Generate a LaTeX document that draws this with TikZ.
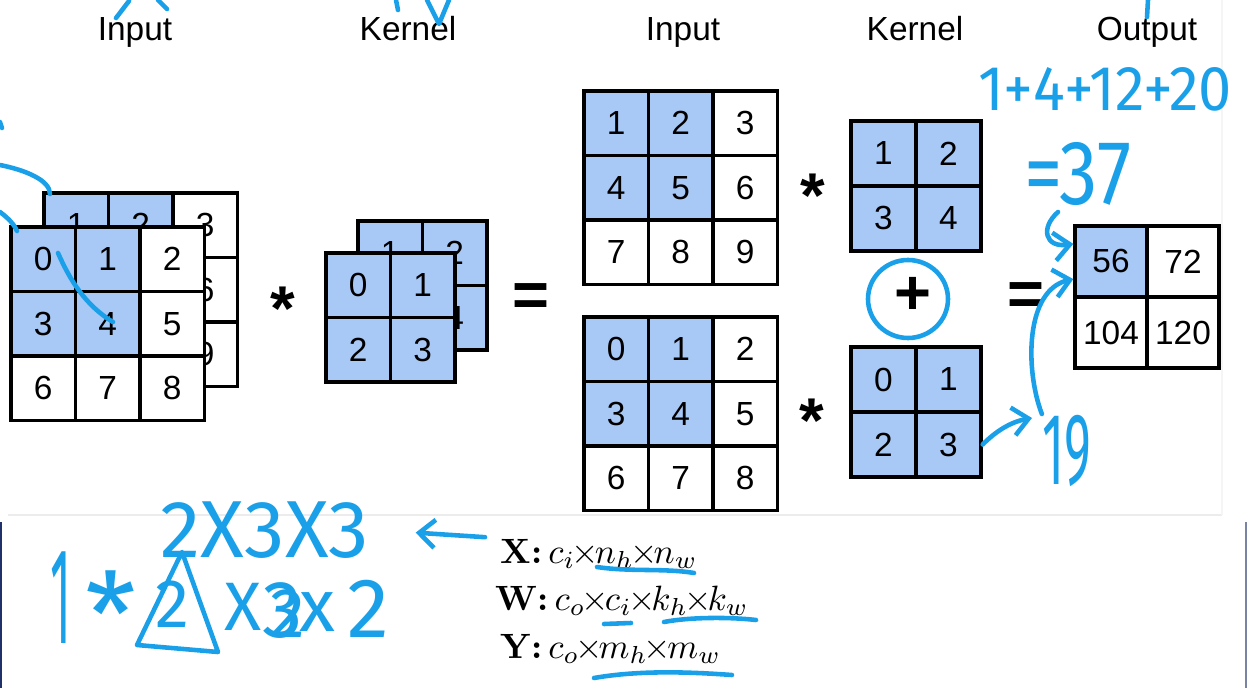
\documentclass[tikz,border=0pt]{standalone}
\usepackage{fontspec}
\usepackage{graphicx}
\usetikzlibrary{arrows.meta, positioning}
\newfontfamily\labelfont{Liberation Sans}
\IfFontExistsTF{FiraSans-Light.otf}{\newfontfamily\handfont{FiraSans-Light.otf}}{\newfontfamily\handfont{Fira Sans}}
\definecolor{cellblue}{RGB}{168,200,245}
\definecolor{ink}{RGB}{25,160,232}
\definecolor{navy}{RGB}{32,48,105}
\newcommand{\tm}{\mkern-2mu{\times}\mkern-2mu}

\tikzset{
  cell/.style={draw, line width=0.95pt, minimum size=0.645cm, inner sep=0pt, font=\labelfont\fontsize{9.5}{9.5}\selectfont},
  cellb/.style={cell, fill=cellblue},
  cellw/.style={cell, fill=white},
  kcell/.style={cellb, minimum size=0.65cm},
  ocell/.style={cellw, minimum width=0.72cm, minimum height=0.71cm},
  title/.style={font=\labelfont\fontsize{9.5}{11}\selectfont, inner sep=0pt, anchor=base},
  op/.style={font=\labelfont\bfseries\fontsize{18}{18}\selectfont, inner sep=0pt},
  formula/.style={font=\fontsize{10}{12}\selectfont, inner sep=0pt, anchor=base west},
  hand/.style={draw=ink, line width=1.3pt, line cap=round, line join=round},
  handtext/.style={text=ink, inner sep=0pt, anchor=base, font=\handfont\fontsize{#1}{#1}\selectfont},
  barb/.style={-{Straight Barb[length=4.5pt, width=8pt]}}
}

\begin{document}
\begin{tikzpicture}[x=0.01cm, y=-0.01cm]
    \useasboundingbox (0,0) rectangle (1248,688);

    % Screenshot edges
    \draw[gray!15, line width=0.7pt] (8,515) -- (1222,515);
    \draw[gray!8, line width=0.5pt] (1222,0) -- (1222,515);
    \draw[navy, line width=0.7pt] (1,522) -- (1,688);
    \draw[navy!60, line width=0.5pt] (1246,522) -- (1246,688);

    % Titles
    \node[title] (lin) at (135,41) {Input};
    \node[title] (lker) at (408,41) {Kernel};
    \node[title] (rin) at (683,41) {Input};
    \node[title] (rker) at (915,41) {Kernel};
    \node[title] (lout) at (1147,41) {Output};

    % Input, channel 1 (back)
    \node[cellb] (lb1) at (76.25,225.25) {1};
    \node[cellb] (lb2) at (140.75,225.25) {2};
    \node[cellw] (lb3) at (205.25,225.25) {3};
    \node[cellb] (lb4) at (76.25,289.75) {4};
    \node[cellb] (lb5) at (140.75,289.75) {5};
    \node[cellw] (lb6) at (205.25,289.75) {6};
    \node[cellw] (lb7) at (76.25,354.25) {7};
    \node[cellw] (lb8) at (140.75,354.25) {8};
    \node[cellw] (lb9) at (205.25,354.25) {9};

    % Input, channel 0 (front)
    \node[cellb] (lf0) at (43.25,259.25) {0};
    \node[cellb] (lf1) at (107.75,259.25) {1};
    \node[cellw] (lf2) at (172.25,259.25) {2};
    \node[cellb] (lf3) at (43.25,323.75) {3};
    \node[cellb] (lf4) at (107.75,323.75) {4};
    \node[cellw] (lf5) at (172.25,323.75) {5};
    \node[cellw] (lf6) at (43.25,388.25) {6};
    \node[cellw] (lf7) at (107.75,388.25) {7};
    \node[cellw] (lf8) at (172.25,388.25) {8};

    \node[op] (star1) at (283,309) {*};

    % Kernel, channel 1 (back)
    \node[cellb] (lkb1) at (390.25,253.25) {1};
    \node[cellb] (lkb2) at (454.75,253.25) {2};
    \node[cellb] (lkb3) at (390.25,317.75) {3};
    \node[cellb] (lkb4) at (454.75,317.75) {4};

    % Kernel, channel 0 (front)
    \node[cellb] (lkf0) at (358.25,285.25) {0};
    \node[cellb] (lkf1) at (422.75,285.25) {1};
    \node[cellb] (lkf2) at (358.25,349.75) {2};
    \node[cellb] (lkf3) at (422.75,349.75) {3};

    \node[op] (eq1) at (531,300) {=};

    % Right input, channel 1
    \node[cellb] (rt1) at (616.25,123.25) {1};
    \node[cellb] (rt2) at (680.75,123.25) {2};
    \node[cellw] (rt3) at (745.25,123.25) {3};
    \node[cellb] (rt4) at (616.25,187.75) {4};
    \node[cellb] (rt5) at (680.75,187.75) {5};
    \node[cellw] (rt6) at (745.25,187.75) {6};
    \node[cellw] (rt7) at (616.25,252.25) {7};
    \node[cellw] (rt8) at (680.75,252.25) {8};
    \node[cellw] (rt9) at (745.25,252.25) {9};

    % Right input, channel 0
    \node[cellb] (rb0) at (616.25,349.25) {0};
    \node[cellb] (rb1) at (680.75,349.25) {1};
    \node[cellw] (rb2) at (745.25,349.25) {2};
    \node[cellb] (rb3) at (616.25,413.75) {3};
    \node[cellb] (rb4) at (680.75,413.75) {4};
    \node[cellw] (rb5) at (745.25,413.75) {5};
    \node[cellw] (rb6) at (616.25,478.25) {6};
    \node[cellw] (rb7) at (680.75,478.25) {7};
    \node[cellw] (rb8) at (745.25,478.25) {8};

    \node[op] (star2) at (813,196) {*};
    \node[op] (star3) at (812,421) {*};

    % Right kernels
    \node[kcell] (rkt1) at (883.5,153.5) {1};
    \node[kcell] (rkt2) at (948.5,153.5) {2};
    \node[kcell] (rkt3) at (883.5,218.5) {3};
    \node[kcell] (rkt4) at (948.5,218.5) {4};
    \node[kcell] (rkb0) at (883.5,379.5) {0};
    \node[kcell] (rkb1) at (948.5,379.5) {1};
    \node[kcell] (rkb2) at (883.5,444.5) {2};
    \node[kcell] (rkb3) at (948.5,444.5) {3};

    \node[op] (plus) at (913,296) {+};
    \node[op] (eq2) at (1026,299) {=};

    % Output
    \node[ocell, fill=cellblue] (o1) at (1111,261.5) {56};
    \node[ocell] (o2) at (1183,261.5) {72};
    \node[ocell] (o3) at (1111,332.5) {104};
    \node[ocell] (o4) at (1183,332.5) {120};

    % Shapes
    \node[formula] (fx) at (500,563) {\textbf{X:}\,$c_i\tm n_h\tm n_w$};
    \node[formula] (fw) at (495,610) {\textbf{W:}\,$c_o\tm c_i\tm k_h\tm k_w$};
    \node[formula] (fy) at (500,658) {\textbf{Y:}\,$c_o\tm m_h\tm m_w$};

    % Handwritten notes
    \node[handtext=18] (sum) at (1105,111) {\scalebox{0.94}[1]{1+4+12+20}};
    \node[handtext=26] (res) at (1078,205) {\scalebox{0.84}[1]{=37}};
    \node[handtext=29] (nineteen) at (1067,484) {\scalebox{0.5}[1]{19}};
    \node[handtext=23] (dims) at (265,557) {2X3X3};
    \node[handtext=39] (one) at (61,643) {\scalebox{0.35}[1]{1}};
    \node[handtext=33, anchor=north] (ast) at (111,570) {*};
    \node[handtext=19.5] (two) at (172,627) {2};
    \node[handtext=19.5] (cross) at (243,630) {X};
    \node[handtext=23] (three) at (283,637) {3};
    \node[handtext=20] (threefix) at (288,637) {2};
    \node[handtext=21] (ex) at (317,631) {x};
    \node[handtext=24] (twob) at (368,637) {2};

    \coordinate (sstart) at (1058,212);
    \coordinate (tip19) at (1032,418);

    \draw[hand] (plus) ++(-5,3) ellipse (40 and 39);
    \draw[hand, barb] (sstart) .. controls (1040,228) and (1045,248) .. (o1.155);
    \draw[hand, barb] (nineteen.north west) .. controls (1025,370) and (1025,290) .. (o1.205);
    \draw[hand, barb] (rkb3.east) .. controls (995,432) and (1010,422) .. (tip19);
    \draw[hand, barb, shorten <=0.15cm, shorten >=0.46cm] (fx.north west) -- (dims.east);
    \draw[hand] (137,645) -- (182,552) -- (218,652) -- cycle;

    % Strokes at the edges
    \draw[hand] (116,18) -- (129,1);
    \draw[hand] (158,0) -- (167,9);
    \draw[hand] (396,0) -- (398,10);
    \draw[hand] (427,0) -- (439,24) -- (449,0);
    \draw[hand] (1148,0) -- (1147,17);
    \draw[hand] (0,122) -- (2,128);
    \draw[hand] (0,165) .. controls (25,170) and (50,180) .. (50,194);
    \draw[hand] (0,212) .. controls (8,218) and (14,224) .. (17,231);
    \draw[hand] (58,253) .. controls (70,280) and (85,305) .. (113,322);

    % Underlines
    \draw[hand] (597,567) .. controls (630,572) and (665,568) .. (694,573);
    \draw[hand] (604,624) -- (631,623);
    \draw[hand] (664,622) .. controls (690,617) and (730,617) .. (756,620);
    \draw[hand] (594,678) .. controls (640,670) and (690,672) .. (732,675);
\end{tikzpicture}
\end{document}
